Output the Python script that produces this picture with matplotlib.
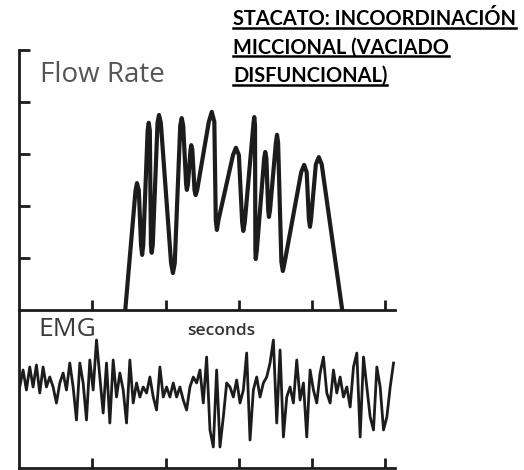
import matplotlib.pyplot as plt
from matplotlib.lines import Line2D
import numpy as np

# flow curve: time (s) and flow (arbitrary units)
flow_t = [1.45,
          1.59, 1.61, 1.635, 1.665, 1.68, 1.695,
          1.755, 1.77, 1.785, 1.80, 1.81, 1.825,
          1.89, 1.91, 1.935, 2.075, 2.10, 2.125,
          2.20, 2.22, 2.24, 2.28, 2.29, 2.305,
          2.34, 2.35, 2.365, 2.395, 2.41, 2.43,
          2.59, 2.63, 2.665, 2.685, 2.70, 2.72,
          2.92, 2.96, 3.00, 3.045, 3.06, 3.08,
          3.20, 3.21, 3.22, 3.225, 3.23, 3.245,
          3.345, 3.36, 3.375, 3.40, 3.41, 3.425,
          3.505, 3.52, 3.535, 3.58, 3.60, 3.625,
          3.85, 3.89, 3.925, 3.955, 3.97, 3.985,
          4.05, 4.09, 4.13,
          4.41]
flow_v = [0.0,
          2.30, 2.44, 2.30, 1.25, 1.06, 1.25,
          3.45, 3.60, 3.45, 1.25, 1.10, 1.25,
          3.60, 3.75, 3.60, 0.90, 0.71, 0.90,
          3.55, 3.69, 3.55, 2.42, 2.31, 2.42,
          3.08, 3.17, 3.08, 2.30, 2.21, 2.30,
          3.62, 3.81, 3.62, 1.72, 1.54, 1.72,
          2.98, 3.12, 2.98, 1.68, 1.52, 1.68,
          3.60, 3.71, 3.55, 1.15, 0.98, 1.15,
          2.92, 3.04, 2.92, 1.92, 1.79, 1.92,
          3.22, 3.37, 3.22, 0.92, 0.75, 0.92,
          2.65, 2.79, 2.65, 1.75, 1.60, 1.75,
          2.80, 2.94, 2.80,
          0.0]

# EMG trace, evenly sampled between these times
emg_start, emg_end = 0.01, 5.11
emg_v = [0, 17, -3, 20, 0, 22, -6, 20, 0, 10, 0, -16, 4, 14, -3, 24, 0, -33,
         24, 4, -33, 27, -3, 47, 10, -26, 24, -36, 27, -10, 14, -3, -36, 27,
         -16, 4, -10, 0, -6, 10, -10, -23, 20, -10, 0, -10, 4, -10, 0, -13,
         -23, 0, 10, 4, 17, -16, 30, -43, -60, 17, -60, -30, 4, 0, -10, 7,
         -16, -3, 34, -53, -3, 10, -10, 4, 10, 24, 47, -36, 37, -50, -10, 0,
         -16, 27, -13, 4, -50, 17, -3, -16, 14, 30, -6, -16, 17, -6, 10, -10,
         0, -20, 20, 34, -50, 30, 0, -30, -43, 20, 0, -43, -30, 0, 24]
emg_t = np.linspace(emg_start, emg_end, len(emg_v))

xticks = [1, 2, 3, 4, 5]
yticks = [1, 2, 3, 4, 5]
title_lines = ["STACATO: INCOORDINACIÓN", "MICCIONAL (VACIADO", "DISFUNCIONAL)"]

ink = "#1c1c1c"
W, H = 524, 470
fig = plt.figure(figsize=(W / 100, H / 100), dpi=100)
fig.patch.set_facecolor("white")

ax1 = fig.add_axes([19 / W, 1 - 310 / H, 376 / W, 260 / H])
ax2 = fig.add_axes([19 / W, 1 - 468 / H, 376 / W, 158 / H])

ax1.plot(flow_t, flow_v, color=ink, lw=3, solid_joinstyle="round")
ax2.plot(emg_t, emg_v, color=ink, lw=2, solid_joinstyle="round")

for ax in (ax1, ax2):
    ax.set_xlim(0, 5.13)
    for s in ("top", "right"):
        ax.spines[s].set_visible(False)
    for s in ("left", "bottom"):
        ax.spines[s].set_linewidth(2)
        ax.spines[s].set_color(ink)
    ax.set_xticks(xticks)
    ax.tick_params(axis="x", direction="in", length=7, width=2, color=ink,
                   labelbottom=False)
    ax.set_facecolor("none")

ax1.set_ylim(0, 5)
ax1.set_yticks(yticks)
ax1.tick_params(axis="y", direction="in", length=8, width=2, color=ink,
                labelleft=False)
ax2.set_ylim(-81, 77)
ax2.set_yticks([])

fig.text(40 / W, 1 - 75 / H, "Flow Rate", fontsize=20, color="#555555",
         family="Open Sans", va="center", ha="left")
fig.text(38 / W, 1 - 330 / H, "EMG", fontsize=19, color="#3a3a3a",
         family="Open Sans", va="center", ha="left")
fig.text(187 / W, 1 - 331 / H, "seconds", fontsize=12.5, color="#333333",
         family="Open Sans", weight="semibold", va="center", ha="left")

# title, bold and underlined
fig.canvas.draw()
renderer = fig.canvas.get_renderer()
for i, line in enumerate(title_lines):
    y = 1 - (25 + i * 28.5) / H
    t = fig.text(233 / W, y, line, fontsize=14.4, weight="bold", color="black",
                 family="Lato", va="baseline", ha="left")
    bb = t.get_window_extent(renderer)
    uy = y - 2.5 / H
    fig.add_artist(Line2D([bb.x0 / W, bb.x1 / W], [uy, uy], color="black",
                          lw=1.8, transform=fig.transFigure))

fig.savefig("out.png", dpi=100, facecolor="white")
